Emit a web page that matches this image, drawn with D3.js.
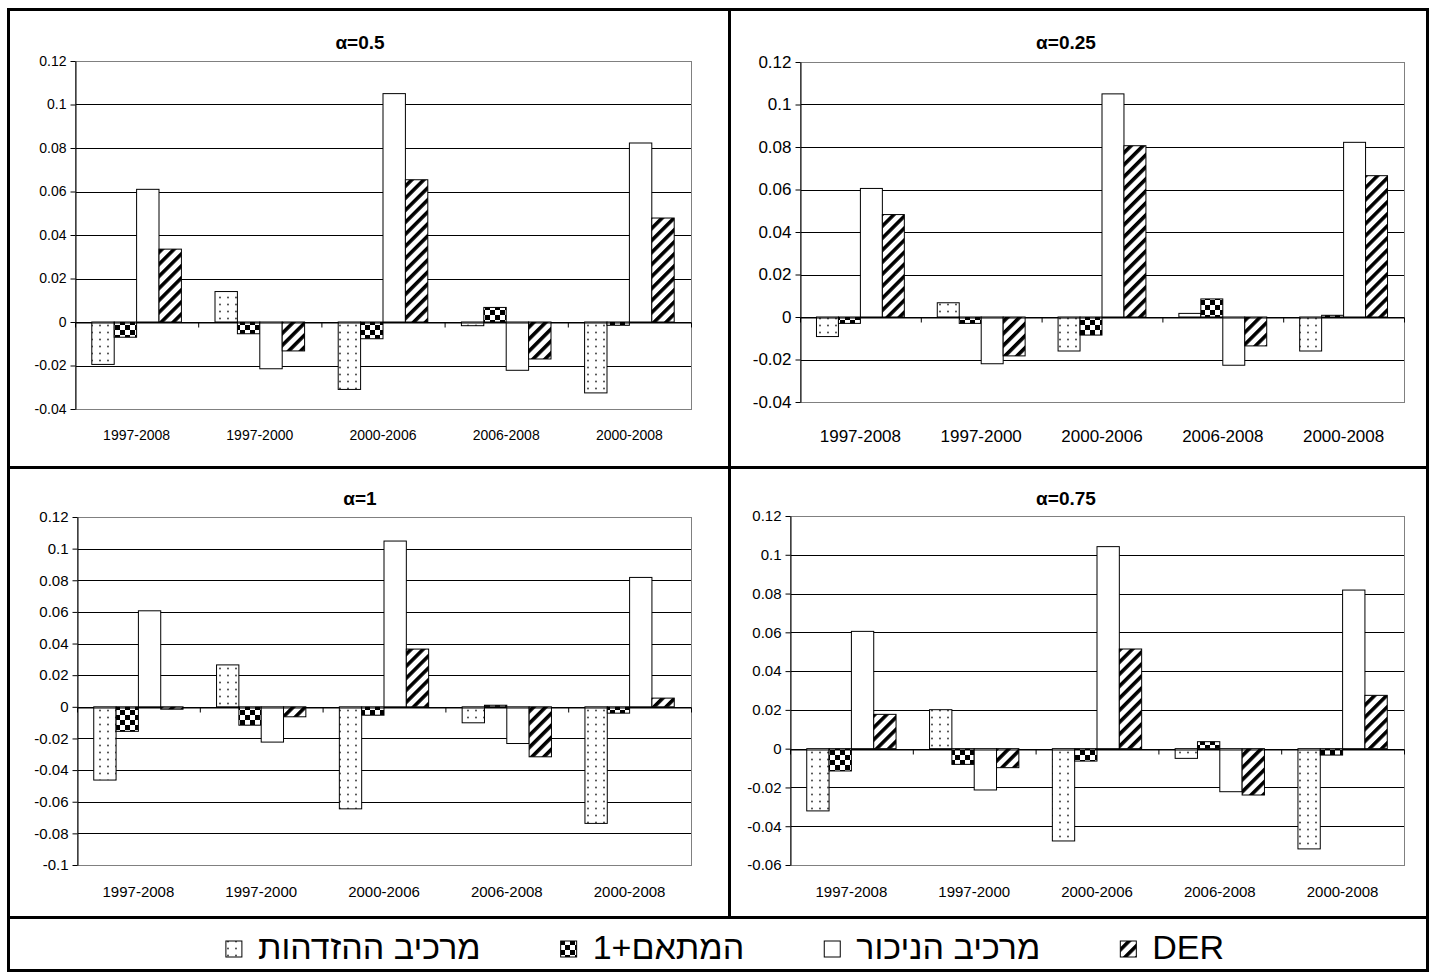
<!DOCTYPE html>
<html>
<head>
<meta charset="utf-8">
<script src="https://cdn.jsdelivr.net/npm/d3@7"></script>
<title>alpha panels</title>
<style>
    body { margin: 0; background: #fff; }
    svg { display: block; font-family: "Liberation Sans", Arial, sans-serif; }
    .grid line { stroke: #000; stroke-width: 1; }
    .bar { stroke: #000; stroke-width: 1; }
</style>
</head>
<body>
<svg id="chart" width="1435" height="974"></svg>
<script>

// periods on the category axis
const categories = ["1997-2008", "1997-2000", "2000-2006", "2006-2008", "2000-2008"];
// legend names, same order as the bars in each group
const seriesNames = ["מרכיב ההזדהות", "המתאם+1", "מרכיב הניכור", "DER"];

// alpha = 0.5
const identA050 = [-0.0195, 0.014, -0.031, -0.0017, -0.0326];
const corrA050 = [-0.007, -0.0054, -0.0077, 0.0067, -0.0015];
const alienA050 = [0.061, -0.0215, 0.105, -0.0222, 0.0823];
const derA050 = [0.0335, -0.0133, 0.0654, -0.017, 0.0478];

// alpha = 0.25
const identA025 = [-0.0092, 0.0067, -0.016, 0.0017, -0.016];
const corrA025 = [-0.003, -0.003, -0.0085, 0.0085, 0.0008];
const alienA025 = [0.0605, -0.022, 0.105, -0.0227, 0.0822];
const derA025 = [0.0482, -0.0183, 0.0806, -0.0136, 0.0665];

// alpha = 1
const identA100 = [-0.0463, 0.0265, -0.0645, -0.0101, -0.0737];
const corrA100 = [-0.0155, -0.0116, -0.0053, 0.001, -0.004];
const alienA100 = [0.0607, -0.0223, 0.1048, -0.0232, 0.0818];
const derA100 = [-0.0015, -0.0063, 0.0365, -0.0316, 0.0055];

// alpha = 0.75
const identA075 = [-0.0321, 0.0201, -0.0476, -0.005, -0.0517];
const corrA075 = [-0.0115, -0.0081, -0.0064, 0.0036, -0.0033];
const alienA075 = [0.0605, -0.0213, 0.1042, -0.0222, 0.0818];
const derA075 = [0.0177, -0.0098, 0.0514, -0.0239, 0.0275];

const fills = ["url(#dots)", "url(#checker)", "#fff", "url(#hatch)"];

// one entry per sub chart, with where it sits on the page
const panels = [
    { title: "α=0.5", series: [identA050, corrA050, alienA050, derA050], ymin: -0.04, ymax: 0.12,
      left: 75, right: 691, top: 61, bottom: 409, fs: 14, tx: 360, ty: 49, ly: 440 },
    { title: "α=0.25", series: [identA025, corrA025, alienA025, derA025], ymin: -0.04, ymax: 0.12,
      left: 800, right: 1404, top: 62, bottom: 402, fs: 17, tx: 1066, ty: 49, ly: 442 },
    { title: "α=1", series: [identA100, corrA100, alienA100, derA100], ymin: -0.1, ymax: 0.12,
      left: 77, right: 691, top: 517, bottom: 865, fs: 15, tx: 360, ty: 505, ly: 897 },
    { title: "α=0.75", series: [identA075, corrA075, alienA075, derA075], ymin: -0.06, ymax: 0.12,
      left: 790, right: 1404, top: 516, bottom: 865, fs: 15, tx: 1066, ty: 505, ly: 897 }
]

const svg = d3.select("#chart");
const defs = svg.append("defs");

// fill patterns
var p = defs.append("pattern").attr("id", "dots").attr("patternUnits", "userSpaceOnUse")
    .attr("width", 8).attr("height", 7);
p.append("rect").attr("width", 8).attr("height", 7).attr("fill", "#fff");
p.append("circle").attr("cx", 4).attr("cy", 3.5).attr("r", 0.9).attr("fill", "#333");

p = defs.append("pattern").attr("id", "checker").attr("patternUnits", "userSpaceOnUse")
    .attr("width", 10).attr("height", 10);
p.append("rect").attr("width", 10).attr("height", 10).attr("fill", "#fff");
p.append("rect").attr("width", 5).attr("height", 5).attr("fill", "#000");
p.append("rect").attr("x", 5).attr("y", 5).attr("width", 5).attr("height", 5).attr("fill", "#000");

p = defs.append("pattern").attr("id", "hatch").attr("patternUnits", "userSpaceOnUse")
    .attr("width", 8.5).attr("height", 8.5).attr("patternTransform", "rotate(45)");
p.append("rect").attr("width", 8.5).attr("height", 8.5).attr("fill", "#fff");
p.append("rect").attr("width", 3.6).attr("height", 8.5).attr("fill", "#000");

const fmt = d => String(+d.toFixed(2));

panels.forEach(function (cfg) {
    var g = svg.append("g");

    var y = d3.scaleLinear().domain([cfg.ymin, cfg.ymax]).range([cfg.bottom, cfg.top]);
    var x0 = d3.scaleBand().domain(categories).range([cfg.left, cfg.right]).padding(0);
    // gap width 150%: four bars + 1.5 bar widths of gap in every band
    var x1 = d3.scaleBand().domain(d3.range(4)).range([0, x0.bandwidth()]).paddingInner(0).paddingOuter(0.75);
    var ticks = d3.range(Math.round(cfg.ymin * 50), Math.round(cfg.ymax * 50) + 1).map(k => k / 50);

    // gridlines
    g.append("g").attr("class", "grid")
        .selectAll("line")
        .data(ticks.filter(t => t > cfg.ymin + 1e-9 && t < cfg.ymax - 1e-9))
        .enter().append("line")
        .attr("x1", cfg.left).attr("x2", cfg.right)
        .attr("y1", d => Math.round(y(d)) + 0.5).attr("y2", d => Math.round(y(d)) + 0.5);

    // plot area border
    g.append("rect")
        .attr("x", cfg.left + 0.5).attr("y", Math.round(cfg.top) + 0.5)
        .attr("width", cfg.right - cfg.left).attr("height", Math.round(cfg.bottom) - Math.round(cfg.top))
        .attr("fill", "none").attr("stroke", "#808080");

    // bars
    cfg.series.forEach(function (vals, si) {
        g.append("g").selectAll("rect")
            .data(vals)
            .enter().append("rect")
            .attr("class", "bar")
            .attr("fill", fills[si])
            .attr("x", (d, i) => x0(categories[i]) + x1(si))
            .attr("width", x1.bandwidth())
            .attr("y", d => y(Math.max(0, d)))
            .attr("height", d => Math.max(1, Math.abs(y(d) - y(0))));
    });

    // category axis on the zero line, ticks between groups
    var xb = d3.scaleLinear().domain([0, 5]).range([cfg.left, cfg.right]);
    var zero = g.append("g")
        .attr("transform", `translate(0,${Math.round(y(0)) + 0.5})`)
        .call(d3.axisBottom(xb).tickValues(d3.range(6)).tickSize(5).tickSizeOuter(0).tickFormat(""));
    zero.selectAll("line, path").attr("stroke", "#000");

    // category labels below the plot
    g.append("g").selectAll("text")
        .data(categories)
        .enter().append("text")
        .attr("x", d => x0(d) + x0.bandwidth() / 2)
        .attr("y", cfg.ly)
        .attr("text-anchor", "middle")
        .attr("font-size", cfg.fs)
        .text(d => d);

    // value axis
    var ya = g.append("g")
        .attr("transform", `translate(${cfg.left + 0.5},0)`)
        .call(d3.axisLeft(y).tickValues(ticks).tickSize(5).tickSizeOuter(0).tickPadding(4).tickFormat(fmt));
    ya.selectAll("path, line").attr("stroke", "#000");
    ya.selectAll("text").attr("font-size", cfg.fs).attr("font-family", "Liberation Sans, Arial, sans-serif").attr("fill", "#000");

    // title
    g.append("text")
        .attr("x", cfg.tx).attr("y", cfg.ty)
        .attr("text-anchor", "middle")
        .attr("font-size", 19).attr("font-weight", "bold")
        .text(cfg.title);
});

// frame: outer box, column divider, row divider, legend divider
svg.append("rect").attr("x", 8.5).attr("y", 9.5).attr("width", 1419).attr("height", 961)
    .attr("fill", "none").attr("stroke", "#000").attr("stroke-width", 3);
svg.append("line").attr("x1", 729.5).attr("x2", 729.5).attr("y1", 9).attr("y2", 917)
    .attr("stroke", "#000").attr("stroke-width", 3);
svg.append("line").attr("x1", 8).attr("x2", 1428).attr("y1", 467.5).attr("y2", 467.5)
    .attr("stroke", "#000").attr("stroke-width", 3);
svg.append("line").attr("x1", 8).attr("x2", 1428).attr("y1", 917.5).attr("y2", 917.5)
    .attr("stroke", "#000").attr("stroke-width", 3);

// legend: box then label, laid out left to right and centred
var legend = svg.append("g").attr("font-size", 34);
var items = legend.selectAll("g").data(seriesNames).enter().append("g");
items.append("rect")
    .attr("width", 16).attr("height", 16)
    .attr("y", 941)
    .attr("fill", (d, i) => fills[i])
    .attr("stroke", "#000");
items.append("text")
    .attr("y", 959)
    .attr("direction", "rtl")
    .attr("text-anchor", "middle")
    .text(d => d);

var pos = 0, widths = [];
items.each(function () {
    widths.push(d3.select(this).select("text").node().getComputedTextLength());
});
var total = d3.sum(widths) + seriesNames.length * (16 + 16) + (seriesNames.length - 1) * 80;
pos = 725 - total / 2;
items.each(function (d, i) {
    var it = d3.select(this);
    it.select("rect").attr("x", pos);
    it.select("text").attr("x", pos + 32 + widths[i] / 2);
    pos += 32 + widths[i] + 80;
});

</script>
</body>
</html>
